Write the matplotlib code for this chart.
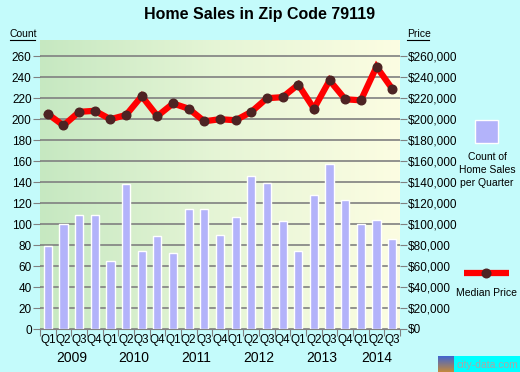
import numpy as np
import matplotlib
matplotlib.use("Agg")
import matplotlib.pyplot as plt
from matplotlib.patches import Rectangle
from matplotlib.ticker import FuncFormatter
from matplotlib.colors import LinearSegmentedColormap

plt.rcParams['font.family'] = ['Liberation Sans', 'DejaVu Sans']

# data
quarters = ['Q1', 'Q2', 'Q3', 'Q4'] * 5 + ['Q1', 'Q2', 'Q3']
years = ['2009', '2010', '2011', '2012', '2013', '2014']
sales_count = [79, 100, 109, 109, 65, 138, 74, 89, 72, 114, 114, 90,
               107, 146, 139, 103, 74, 128, 157, 123, 100, 104, 86]
median_price = [205000, 194000, 207000, 208000, 200000, 204000, 222000, 203000,
                215000, 210000, 198000, 200000, 199000, 207000, 220000, 221000,
                233000, 210000, 237000, 219000, 218000, 250000, 229000]

W, H = 520, 372
bg = '#c4fbfb'
fig = plt.figure(figsize=(W / 100, H / 100), dpi=100, facecolor=bg)

# main plot area (pixel box 40..400 x 40..329)
ax = fig.add_axes([40 / W, (H - 329) / H, 360 / W, 289 / H])
n = len(sales_count)
x = np.arange(n)
ax.set_xlim(-0.5, n - 0.5)
ax.set_ylim(0, 275.5)

# green -> pale yellow gradient
grad = np.linspace(0, 1, 256).reshape(1, -1)
cmap = LinearSegmentedColormap.from_list('bg', ['#c6e8c1', '#e6f5d6', '#fcfde2'])
ax.imshow(grad, cmap=cmap, aspect='auto', extent=(-0.5, n - 0.5, 0, 275.5), zorder=0)

for v in range(0, 261, 20):
    ax.axhline(v, color='#808080', lw=1.2, zorder=1)

ax.bar(x, sales_count, width=0.52, color='#b3b3fa', edgecolor='white', lw=1, zorder=2)

ax2 = ax.twinx()
ax2.set_ylim(0, 275500)
ax2.plot(x, median_price, color='#ff0000', lw=4.5, zorder=3, solid_joinstyle='miter')
ax2.plot(x, median_price, 'o', color='#4d2323', ms=6.2, zorder=4)

for a in (ax, ax2):
    for s in a.spines.values():
        s.set_visible(False)

ax.set_yticks(range(0, 261, 20))
ax.tick_params(axis='y', length=5, color='#808080', labelsize=8.5, pad=1)
ax.set_xticks(np.arange(-0.5, n, 1))
ax.set_xticklabels([])
ax.tick_params(axis='x', length=5, color='#808080')
ax.spines['bottom'].set_visible(True)
ax.spines['bottom'].set_color('#808080')

ax2.set_yticks(range(0, 260001, 20000))
ax2.yaxis.set_major_formatter(FuncFormatter(lambda v, p: '${:,.0f}'.format(v)))
ax2.tick_params(axis='y', length=5, color='#808080', labelsize=8.5, pad=1)

for i, q in enumerate(quarters):
    ax.text(i, -5, q, ha='center', va='top', fontsize=8.5)
year_pos = [1.5, 5.5, 9.5, 13.5, 17.5, 21]
for yp, yr in zip(year_pos, years):
    ax.text(yp, -21, yr, ha='center', va='top', fontsize=10)

# overlay in pixel coordinates for titles, legend and watermark
ov = fig.add_axes([0, 0, 1, 1], facecolor='none')
ov.set_xlim(0, W)
ov.set_ylim(H, 0)
ov.axis('off')

ov.text(260, 15, 'Home Sales in Zip Code 79119', ha='center', va='center',
        fontsize=11.5, fontweight='bold')
ov.text(10, 34, 'Count', ha='left', va='center', fontsize=7.5)
ov.plot([10, 35], [39.5, 39.5], color='black', lw=0.8)
ov.text(407, 34, 'Price', ha='left', va='center', fontsize=7.5)
ov.plot([407, 429], [39.5, 39.5], color='black', lw=0.8)

ov.add_patch(Rectangle((475, 120), 23, 23, fc='#b3b3fa', ec='white', lw=1))
ov.text(487, 170, 'Count of\nHome Sales\nper Quarter', ha='center', va='center',
        fontsize=7.5, linespacing=1.35)
ov.plot([464, 509], [272.5, 272.5], color='#ff0000', lw=4.5, solid_capstyle='butt')
ov.plot([486], [272.5], 'o', color='#4d2323', ms=6.2)
ov.text(486, 293, 'Median Price', ha='center', va='center', fontsize=7.5)

# city-data.com watermark
icon = np.linspace(0, 1, 16).reshape(-1, 1)
ov.imshow(icon, cmap=LinearSegmentedColormap.from_list('ic', ['#4466cc', '#c08840']),
          extent=(438, 454, 372, 356), aspect='auto', zorder=5)
ov.add_patch(Rectangle((454, 356), 66, 16, fc='#00ffff', ec='none', zorder=5))
ov.text(487, 364.5, 'city-data.com', ha='center', va='center', fontsize=7.5,
        color='#a8a8a8', zorder=6)
ov.set_xlim(0, W)
ov.set_ylim(H, 0)

fig.savefig('out.png', dpi=100, facecolor=bg)
